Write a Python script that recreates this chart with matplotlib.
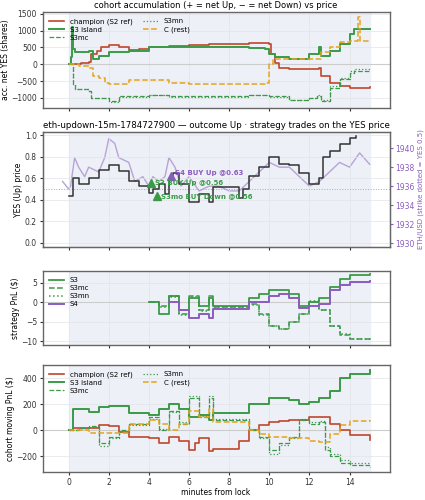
import numpy as np
import matplotlib
matplotlib.use("Agg")
import matplotlib.pyplot as plt

# ---- panel 1: accumulated net YES shares ----
acc_champ_t = [0,0.5,0.6,1,1.1,1.4,1.6,2,2.5,3,3.5,4,5,6,7,8,9,10,10.1,10.3,10.5,11,12,12.5,12.6,13,13.5,14,15]
acc_champ_v = [0,0,50,60,300,380,500,580,500,420,450,520,540,580,600,610,630,600,300,50,-100,-150,-130,-100,-350,-550,-650,-700,-670]
acc_s3_t = [0,0.1,0.15,0.2,0.3,1,1.2,1.5,2,3,4,5,6,7,8,9,9.8,10,10.3,11,12,12.5,12.6,13,13.5,14,14.2,15]
acc_s3_v = [0,200,1100,450,350,380,150,250,350,380,500,520,520,500,500,480,450,300,200,150,300,500,250,400,600,900,1050,1050]
acc_s3mc_t = [0,0.2,0.3,1,1.1,2,2.5,3,4,5,6,7,8,9,10,11,12,12.4,12.6,13,13.5,14,14.2,15]
acc_s3mc_v = [0,-600,-750,-800,-1000,-1100,-950,-950,-900,-950,-950,-950,-950,-900,-950,-1050,-1000,-950,-1100,-700,-450,-250,-200,-200]
acc_s3mn_v = [0,-600,-750,-800,-1000,-1120,-960,-960,-910,-960,-960,-960,-960,-910,-960,-1060,-1000,-900,-1050,-650,-400,-200,-130,-130]
acc_c_t = [0,0.5,1,1.2,1.5,1.8,2,3,4,5,6,7,8,9,9.8,10,10.2,11,12,12.5,12.6,13,13.5,14,14.3,14.4,14.5,15]
acc_c_v = [0,-50,-100,-350,-400,-550,-580,-480,-480,-550,-600,-600,-600,-600,-550,0,150,150,150,150,350,500,650,700,700,1400,700,650]

# ---- panel 2: YES price and ETH ----
yes_t = [0,0.2,0.5,1,1.5,2,2.5,3,3.5,4,4.2,4.5,4.8,5,5.2,5.5,6,6.5,7,7.2,8,8.4,8.5,8.7,9,9.5,10,10.5,11,11.5,12,12.5,12.7,13,13.5,14,14.3]
yes_v = [0.43,0.6,0.55,0.6,0.68,0.72,0.67,0.57,0.53,0.46,0.5,0.55,0.45,0.6,0.65,0.55,0.38,0.45,0.38,0.52,0.52,0.52,0.42,0.5,0.62,0.7,0.8,0.73,0.72,0.65,0.55,0.6,0.8,0.85,0.92,0.97,0.99]
eth_t = [-0.3,0,0.1,0.3,0.5,0.8,1,1.5,1.8,2,2.3,2.5,3,3.3,3.7,4,4.2,4.5,4.8,5,5.3,5.6,6,6.5,7,7.5,8,8.5,9,9.5,10,10.5,11,11.5,12,12.5,13,13.5,14,14.5,15]
eth_v = [1936.5,1935.7,1936,1939,1938,1937,1938,1937.5,1939,1941,1940.5,1939,1938.5,1936.5,1937,1936,1937,1936.5,1937,1939,1938,1936,1937,1935.5,1936,1936,1935.5,1935.5,1936.5,1937.5,1938.5,1938,1938,1937,1936,1936.5,1937.5,1938.5,1938,1939.5,1938.3]
trade_t = [4.1, 4.4, 5.1]
trade_p = [0.56, 0.43, 0.62]
trade_lbl = ["S3 BUY Up @0.56", "S3mo BUY Down @0.56", "S4 BUY Up @0.63"]

# ---- panel 3: strategy PnL ----
pnl_t = [4,4.5,5,5.5,6,6.5,7,7.2,8.5,9,9.5,10,10.5,11,11.5,12,12.5,13,13.5,14,15]
pnl_s3 = [0,-3,1.5,-2,1,-1,1,-1,-1,1,2,3,3,2,-1,0,1,4,6,7,7.2]
pnl_s3mc = [0,-1,1.5,-3,1.5,-2,1.5,-1.2,-1.2,-0.5,-3,-6,-7,-5,-3,0,-2,-6,-8.5,-9.5,-10]
pnl_s3mn = [0,-1.2,1.3,-3.2,1.3,-2.2,1.3,-1.3,-1.3,-0.7,-3.2,-6.2,-7,-5,-3,0.2,-2,-6,-8.3,-9.5,-10.1]
pnl_s4_t = [5,5.5,6,6.5,7,7.2,8.5,9,10,10.5,11,11.5,12,12.5,13,13.5,14,15]
pnl_s4 = [0,-2,-4,-3,-4,-1.8,-1.8,0,1.5,2,1,-1.5,-1,-0.5,3,4.5,5.2,5.5]

# ---- panel 4: cohort moving PnL ----
mv_champ_t = [0,0.2,1,1.5,2,2.5,3,4,4.5,5,5.5,6,6.3,6.5,7,7.2,8,8.5,9,9.5,10,10.5,11,12,12.5,13,13.5,14,15]
mv_champ_v = [0,20,20,40,30,-10,-50,-60,-100,-50,-80,-150,-100,-60,-160,-140,-140,-80,0,40,60,70,80,100,100,50,0,-40,-75]
mv_s3_t = [0,0.2,1,1.5,2,3,4,4.5,5,5.5,6,6.5,7,7.2,8.5,9,10,11,11.5,12,12.5,13,13.5,14,15]
mv_s3_v = [0,160,140,180,185,130,120,160,200,160,100,120,80,130,130,200,250,230,200,220,250,300,400,430,460]
mv_mc_t = [0,0.5,1,1.5,2,2.5,3,4,4.5,5,5.5,6,6.5,7,7.2,8.5,9,9.5,10,10.5,11,11.5,12,12.5,12.8,13,13.5,14,15]
mv_mc_v = [0,20,30,-100,-50,0,50,100,0,150,50,250,100,250,80,80,0,-50,-150,-100,-50,80,50,60,-150,-200,-250,-270,-280]
mv_mn_v = [0,15,25,-120,-60,-10,40,90,10,140,60,260,110,260,90,90,10,-60,-180,-110,-60,90,60,70,-130,-180,-230,-250,-250]
mv_c_t = [0,1,2,3,4,4.5,5,5.5,6,6.5,7,7.2,8.5,9,9.5,10,11,12,12.5,13,13.5,14,15]
mv_c_v = [0,-20,-20,50,80,50,0,50,150,100,160,60,60,0,-30,-50,-60,-80,-90,-30,40,70,80]

RED = "#c0462a"; GRN = "#3a9a48"; ORG = "#e5a41c"; PUR = "#8a5cc0"; ETHC = "#b7a3d6"
FS = 5.5

fig = plt.figure(figsize=(4.25, 5.0), dpi=100)
L, W = 0.10, 0.817
axes = [fig.add_axes([L, 0.784, W, 0.192]),
        fig.add_axes([L, 0.506, W, 0.23]),
        fig.add_axes([L, 0.31, W, 0.148]),
        fig.add_axes([L, 0.056, W, 0.214])]
for ax in axes:
    ax.axvspan(0, 15, color="#eef0f7", zorder=0)
    ax.set_xlim(-1.3, 16)
    ax.set_xticks([0, 2, 4, 6, 8, 10, 12, 14])
    ax.grid(True, color="#e2e4ea", lw=0.5)
    ax.tick_params(labelsize=FS, length=2.5, colors="#333", pad=1.5)
    for s in ax.spines.values():
        s.set_color("#666"); s.set_linewidth(1.0)
for ax in axes[:3]:
    ax.tick_params(labelbottom=False)

def cohort(ax, ct, cv, st, sv, mt, mv, mnv, ot, ov):
    ax.axhline(0, color="#ccc", lw=0.8)
    ax.plot(ct, cv, drawstyle="steps-post", color=RED, lw=1.2, label="champion (S2 ref)")
    ax.plot(st, sv, drawstyle="steps-post", color=GRN, lw=1.4, label="S3 island")
    ax.plot(mt, mv, drawstyle="steps-post", color=GRN, lw=0.9, ls="--", label="S3mc")
    ax.plot(mt, mnv, drawstyle="steps-post", color=GRN, lw=0.9, ls=":", label="S3mn")
    ax.plot(ot, ov, drawstyle="steps-post", color=ORG, lw=1.1, ls="--", label="C (rest)")
    ax.legend(loc="upper left", ncol=2, fontsize=5, frameon=False, handlelength=2.2, columnspacing=1.5, labelspacing=0.3)

ax = axes[0]
cohort(ax, acc_champ_t, acc_champ_v, acc_s3_t, acc_s3_v, acc_s3mc_t, acc_s3mc_v, acc_s3mn_v, acc_c_t, acc_c_v)
ax.set_ylim(-1300, 1550)
ax.set_yticks([-1000, -500, 0, 500, 1000, 1500])
ax.set_ylabel("acc. net YES (shares)", fontsize=FS, labelpad=1)
ax.set_title("cohort accumulation (+ = net Up, − = net Down) vs price", fontsize=6, pad=3)

ax = axes[1]
ax2 = ax.twinx()
ax.axhline(0.5, color="#aaa", lw=0.7, ls=":")
ax.plot(yes_t, yes_v, drawstyle="steps-post", color="#333", lw=1.1, zorder=3)
ax.set_ylim(-0.04, 1.03)
ax.set_yticks([0, 0.2, 0.4, 0.6, 0.8, 1.0])
ax.set_ylabel("YES (Up) price", fontsize=FS, labelpad=1)
ax.set_title("eth-updown-15m-1784727900 — outcome Up · strategy trades on the YES price", fontsize=6.2, pad=3)
ax2.plot(eth_t, eth_v, color=ETHC, lw=1.0, zorder=1)
ax2.set_ylim(1929.6, 1941.7)
ax2.set_yticks([1930, 1932, 1934, 1936, 1938, 1940])
ax2.tick_params(labelsize=FS, colors=PUR, length=2.5, pad=1.5)
ax2.set_ylabel("ETH/USD (strike dotted = YES 0.5)", fontsize=5, color=PUR, labelpad=2)
for s in ax2.spines.values():
    s.set_color("#666")
ax.set_zorder(ax2.get_zorder() + 1); ax.patch.set_visible(False)
# shading behind both: move span to ax2
ax2.axvspan(0, 15, color="#eef0f7", zorder=0)
ax2.grid(False)
cols = [GRN, GRN, PUR]
for t, p, lb, c in zip(trade_t, trade_p, trade_lbl, cols):
    ax.plot([t], [p], marker="^", color=c, ms=6, zorder=5, ls="none")
    ax.annotate(lb, (t, p), xytext=(3, 0), textcoords="offset points", fontsize=5,
                color=c, fontweight="bold", va="bottom" if c == PUR else "center", zorder=6)
# remove ax's own span so ETH line shows
for patch in list(ax.patches):
    patch.remove()

ax = axes[2]
ax.axhline(0, color="#ccc", lw=0.8)
ax.plot(pnl_t, pnl_s3, drawstyle="steps-post", color=GRN, lw=1.3, label="S3")
ax.plot(pnl_t, pnl_s3mc, drawstyle="steps-post", color=GRN, lw=1.1, ls="--", label="S3mc")
ax.plot(pnl_t, pnl_s3mn, drawstyle="steps-post", color=GRN, lw=1.1, ls=":", label="S3mn")
ax.plot(pnl_s4_t, pnl_s4, drawstyle="steps-post", color=PUR, lw=1.4, label="S4")
ax.set_ylim(-11, 8)
ax.set_yticks([-10, -5, 0, 5])
ax.set_ylabel("strategy PnL ($)", fontsize=FS, labelpad=1)
ax.legend(loc="upper left", fontsize=5, frameon=False, handlelength=2.2, labelspacing=0.3)

ax = axes[3]
cohort(ax, mv_champ_t, mv_champ_v, mv_s3_t, mv_s3_v, mv_mc_t, mv_mc_v, mv_mn_v, mv_c_t, mv_c_v)
ax.set_ylim(-320, 500)
ax.set_yticks([-200, 0, 200, 400])
ax.set_ylabel("cohort moving PnL ($)", fontsize=FS, labelpad=1)
ax.set_xlabel("minutes from lock", fontsize=FS, labelpad=1)

fig.savefig("out.png", dpi=100)
